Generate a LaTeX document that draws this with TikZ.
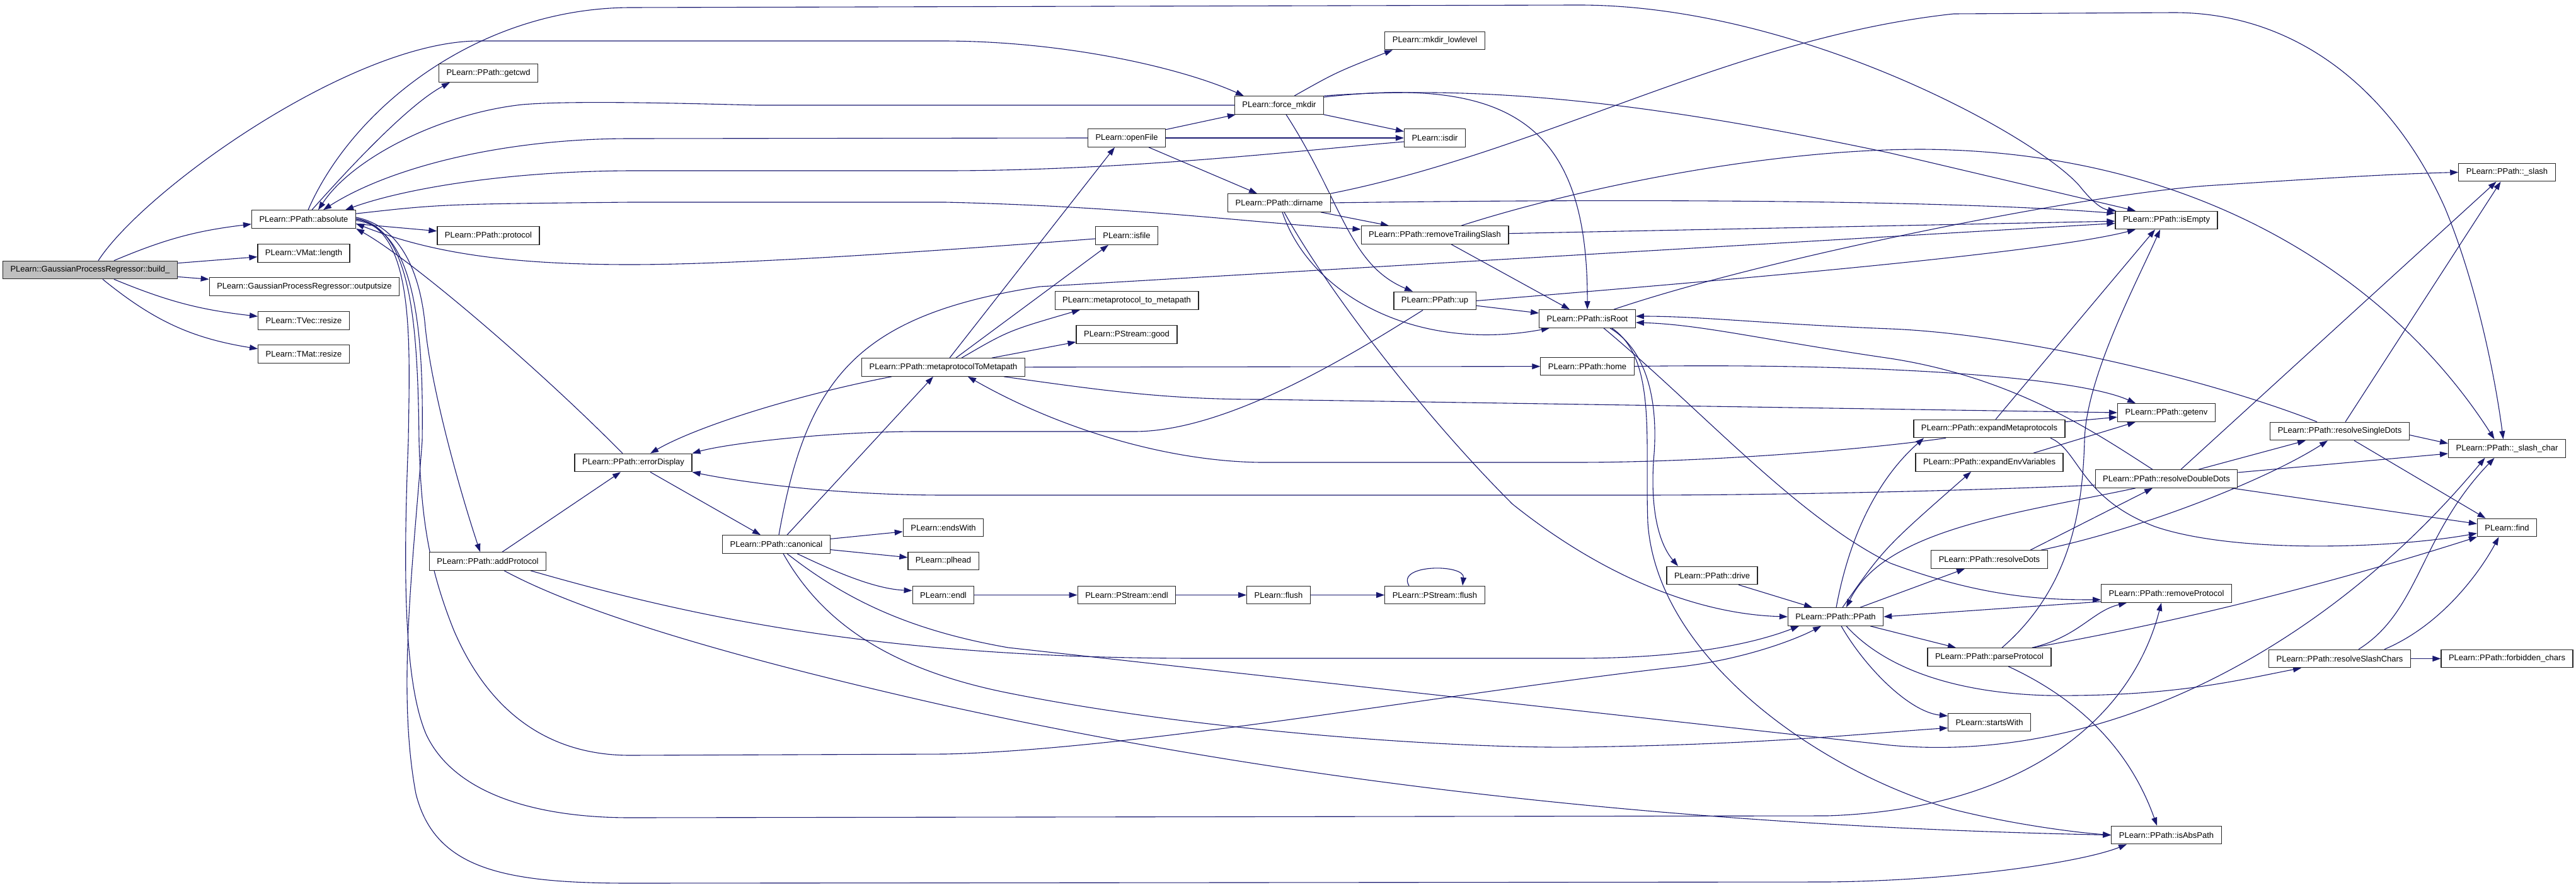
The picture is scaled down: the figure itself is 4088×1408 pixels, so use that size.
\documentclass[tikz,border=0pt]{standalone}
\usepackage{fontspec}
\setmainfont{Liberation Sans}
\usetikzlibrary{arrows.meta}
\usetikzlibrary{backgrounds}
\definecolor{edgeblue}{HTML}{191970}
\def\boxh{28.5pt}
\tikzset{
>={Triangle[length=13pt,width=9pt]}, % all arrows with filled tips
fn/.style={draw=black!85,line width=1.2pt,fill=white,rectangle,
  minimum height=\boxh,inner xsep=12pt,inner ysep=0pt,
  font=\fontsize{13}{15}\selectfont},
root fn/.style={fn,fill=black!25},
call/.style={->,draw,color=edgeblue,line width=1.1pt}
}
\begin{document}
\begin{tikzpicture}[x=1pt,y=-1pt]
\useasboundingbox (0,0) rectangle (4088,1408);
% functions, rank by rank
\node[root fn] (build) at (143,428.5) {PLearn::GaussianProcessRegressor::build\_};
\node[fn] (absolute) at (482,348) {PLearn::PPath::absolute};
\node[fn] (vlength)  at (482,402) {PLearn::VMat::length};
\node[fn] (outsize)  at (483,455) {PLearn::GaussianProcessRegressor::outputsize};
\node[fn] (tvresize) at (482,509) {PLearn::TVec::resize};
\node[fn] (tmresize) at (482,562) {PLearn::TMat::resize};
\node[fn] (getcwd)   at (775,116) {PLearn::PPath::getcwd};
\node[fn] (protocol) at (775,374) {PLearn::PPath::protocol};
\node[fn] (addproto) at (774,891) {PLearn::PPath::addProtocol};
\node[fn] (errdisp)  at (1005,734.5) {PLearn::PPath::errorDisplay};
\node[fn] (canon)    at (1232,864) {PLearn::PPath::canonical};
\node[fn] (mtm)      at (1497,583) {PLearn::PPath::metaprotocolToMetapath};
\node[fn] (endswith) at (1497,837.5) {PLearn::endsWith};
\node[fn] (plhead)   at (1497,890.5) {PLearn::plhead};
\node[fn] (endl)     at (1497,944.5) {PLearn::endl};
\node[fn] (openfile) at (1788,219) {PLearn::openFile};
\node[fn] (isfile)   at (1788,374) {PLearn::isfile};
\node[fn] (mtomp)    at (1788,477) {PLearn::metaprotocol\_to\_metapath};
\node[fn] (good)     at (1788,531) {PLearn::PStream::good};
\node[fn] (psendl)   at (1788,944.5) {PLearn::PStream::endl};
\node[fn] (forcemk)  at (2030,167) {PLearn::force\_mkdir};
\node[fn] (dirname)  at (2030,322) {PLearn::PPath::dirname};
\node[fn] (flush)    at (2029,944.5) {PLearn::flush};
\node[fn] (mklow)    at (2277,64.5) {PLearn::mkdir\_lowlevel};
\node[fn] (isdir)    at (2277,219) {PLearn::isdir};
\node[fn] (rmtrail)  at (2277,373) {PLearn::PPath::removeTrailingSlash};
\node[fn] (up)       at (2277,477.5) {PLearn::PPath::up};
\node[fn] (psflush)  at (2277,944.5) {PLearn::PStream::flush};
\node[fn] (isroot)   at (2519,506) {PLearn::PPath::isRoot};
\node[fn] (home)     at (2519,581.5) {PLearn::PPath::home};
\node[fn] (drive)    at (2717,913.5) {PLearn::PPath::drive};
\node[fn] (ppath)    at (2913,979) {PLearn::PPath::PPath};
\node[fn] (expmeta)  at (3157,680.5) {PLearn::PPath::expandMetaprotocols};
\node[fn] (expenv)   at (3157,734) {PLearn::PPath::expandEnvVariables};
\node[fn] (resdots)  at (3157,888) {PLearn::PPath::resolveDots};
\node[fn] (parsepr)  at (3157,1043) {PLearn::PPath::parseProtocol};
\node[fn] (startsw)  at (3157,1146.5) {PLearn::startsWith};
\node[fn] (isempty)  at (3438,349.5) {PLearn::PPath::isEmpty};
\node[fn] (getenv)   at (3438,655) {PLearn::PPath::getenv};
\node[fn] (resdd)    at (3438,760) {PLearn::PPath::resolveDoubleDots};
\node[fn] (rmproto)  at (3438,942) {PLearn::PPath::removeProtocol};
\node[fn] (isabs)    at (3438,1325.5) {PLearn::PPath::isAbsPath};
\node[fn] (ressd)    at (3713,684.5) {PLearn::PPath::resolveSingleDots};
\node[fn] (ressc)    at (3713,1045.5) {PLearn::PPath::resolveSlashChars};
\node[fn] (slash)    at (3978.5,273.5) {PLearn::PPath::\_slash};
\node[fn] (slashch)  at (3978.5,712) {PLearn::PPath::\_slash\_char};
\node[fn] (find)     at (3978.5,837.5) {PLearn::find};
\node[fn] (forbid)   at (3978.5,1045.5) {PLearn::PPath::forbidden\_chars};

\begin{scope}[on background layer]
% build_
\path[call] (build) edge[bend left=8] (absolute)
            (build) edge (vlength)
            (build) edge (outsize)
            (build) edge[bend right=8] (tvresize)
            (build) edge[bend right=15] (tmresize);
\draw[call] ([xshift=13pt]build.north) .. controls (230,300) and (560,65) .. (760,65)
  -- (1500,65) .. controls (1700,66) and (1880,110) .. ([xshift=15pt]forcemk.north west);
% absolute
\draw[call] ([xshift=7pt]absolute.north) .. controls (560,170) and (760,13) .. (1000,12)
  -- (2500,8) .. controls (2850,6) and (3230,215) .. (3300,295)
  .. controls (3320,320) and (3335,332) .. ([xshift=2pt]isempty.north west);
\draw[call] ([xshift=13pt]absolute.north) .. controls (560,260) and (650,165) .. ([xshift=18pt]getcwd.south west);
\path[call] (absolute) edge (protocol);
\draw[call] ([yshift=-6pt]absolute.north east) .. controls (700,324) .. (1000,321) -- (1500,321)
  .. controls (1800,328) and (2000,355) .. ([yshift=9pt]rmtrail.west);
\draw[call] ([yshift=3pt]absolute.east) .. controls (640,360) and (668,440) .. (675,520)
  .. controls (685,620) and (730,780) .. ([xshift=-12pt]addproto.north);
\draw[call] ([yshift=1pt]absolute.east) .. controls (650,360) and (663,500) .. (665,700)
  .. controls (668,820) and (680,900) .. (720,1000) .. controls (780,1140) and (880,1199) .. (1000,1199)
  -- (1500,1197) .. controls (1800,1190) and (2300,1100) .. (2650,1060)
  .. controls (2760,1050) and (2850,1015) .. ([xshift=-23pt]ppath.south);
\draw[call] (absolute.east) .. controls (660,362) and (650,550) .. (648,700)
  .. controls (640,900) and (640,1080) .. (676,1165) .. controls (720,1260) and (850,1298) .. (1000,1298)
  -- (2900,1295) .. controls (3200,1285) and (3380,1150) .. ([xshift=-8pt]rmproto.south);
\draw[call] ([yshift=-2pt]absolute.east) .. controls (665,362) and (672,550) .. (670,700)
  .. controls (655,900) and (630,1100) .. (660,1260) .. controls (690,1380) and (800,1402) .. (1000,1402)
  -- (2900,1400) .. controls (3100,1398) and (3300,1370) .. ([xshift=-63pt]isabs.south);
% callers of absolute
\draw[call] (forcemk.west) -- (1200,167) .. controls (1050,163) and (900,160) .. (829,166)
  .. controls (700,180) and (560,250) .. ([xshift=23pt]absolute.north);
\draw[call] (openfile.west) -- (1000,220) .. controls (800,220) and (620,265) .. ([xshift=31pt]absolute.north);
\draw[call] ([yshift=-6pt]isdir.west) .. controls (2100,235) and (1800,271) .. (1500,271) -- (1000,271)
  .. controls (800,272) and (640,300) .. ([xshift=-17pt]absolute.north east);
\draw[call] ([yshift=-5pt]isfile.west) .. controls (1400,405) and (1150,420) .. (1000,420)
  .. controls (800,420) and (680,400) .. ([yshift=-7pt]absolute.east);
\draw[call] ([xshift=-17pt]errdisp.north) .. controls (850,580) and (650,410) .. (absolute.south east);
% addProtocol
\draw[call] ([xshift=23pt]addproto.north) -- ([xshift=-20pt]errdisp.south);
\draw[call] ([xshift=68pt]addproto.south) .. controls (1100,980) and (1400,1045) .. (1900,1045) -- (2500,1045)
  .. controls (2700,1045) and (2800,1015) .. ([xshift=-58pt]ppath.south);
\draw[call] ([xshift=26pt]addproto.south) .. controls (900,960) and (1100,1030) .. (1500,1120)
  .. controls (2000,1230) and (2600,1310) .. (isabs.west);
% errorDisplay and canonical
\draw[call] ([xshift=27pt]errdisp.south) -- ([xshift=-25pt]canon.north);
\draw[call] ([xshift=17pt]canon.north) -- ([xshift=-16pt]mtm.south);
\draw[call] ([xshift=4pt]canon.north) .. controls (1280,600) and (1360,500) .. (1650,455) -- ([yshift=-5pt]isempty.west);
\path[call] (canon) edge (endswith)
            (canon) edge (plhead);
\draw[call] ([xshift=33pt]canon.south) .. controls (1330,910) and (1390,935) .. ([yshift=7pt]endl.west);
\draw[call] ([xshift=11pt]canon.south) .. controls (1300,980) and (1400,1060) .. (1600,1100)
  .. controls (1900,1160) and (2300,1188) .. (2500,1186) .. controls (2800,1182) and (2950,1165) .. ([yshift=-9pt]startsw.west);
\draw[call] ([xshift=17pt]canon.south) .. controls (1340,950) and (1440,1000) .. (1600,1028) -- (3000,1183)
  .. controls (3350,1215) and (3700,1020) .. ([xshift=-35pt]slashch.south);
% metaprotocolToMetapath
\draw[call] ([xshift=-82pt]mtm.south) .. controls (1250,630) and (1100,680) .. ([xshift=27pt]errdisp.north);
\draw[call] ([xshift=10pt]mtm.north) -- ([xshift=-19pt]openfile.south);
\draw[call] ([xshift=20pt]mtm.north) -- ([xshift=-29pt]isfile.south);
\draw[call] ([xshift=29pt]mtm.north) .. controls (1600,525) .. ([xshift=-74pt]mtomp.south);
\draw[call] ([xshift=77pt]mtm.north) -- ([yshift=3pt]good.south west);
\path[call] (mtm) edge (home);
\draw[call] ([xshift=96pt]mtm.south) .. controls (1750,620) and (1850,634) .. (2000,634) -- (getenv.west);
\draw[call] ([xshift=-19pt]up.south) .. controls (2150,560) and (1950,685) .. (1800,685) -- (1450,685)
  .. controls (1300,686) and (1150,705) .. (errdisp.north east);
\draw[call] ([xshift=-69pt]expmeta.south) .. controls (2950,715) and (2700,734) .. (2500,734) -- (2000,734)
  .. controls (1850,732) and (1680,680) .. ([xshift=39pt]mtm.south);
% openFile and force_mkdir
\path[call] (openfile) edge (forcemk)
            (openfile) edge (isdir);
\draw[call] ([xshift=35pt]openfile.south) -- ([xshift=-35pt]dirname.north);
\draw[call] ([xshift=24pt]forcemk.north) .. controls (2120,115) .. ([xshift=-67pt]mklow.south);
\path[call] (forcemk) edge (isdir);
\draw[call] ([xshift=11pt]forcemk.south) .. controls (2130,320) and (2140,420) .. ([xshift=-35pt]up.north);
\draw[call] ([yshift=-2pt]forcemk.north east) .. controls (2400,120) and (2520,200) .. (isroot.north);
\draw[call] (forcemk.north east) .. controls (2400,130) and (2700,180) .. (3000,243) -- ([xshift=-49pt]isempty.north);
% dirname
\draw[call] (dirname.north east) .. controls (2450,240) and (2750,60) .. (3100,22) -- (3450,20)
  .. controls (3650,20) and (3800,150) .. (3880,330) .. controls (3930,450) and (3960,600) .. ([xshift=-6pt]slashch.north);
\draw[call] (dirname.east) .. controls (2600,315) and (3100,318) .. ([yshift=-4pt]isempty.north west);
\draw[call] ([xshift=66pt]dirname.south) -- ([xshift=-73pt]rmtrail.north);
\draw[call] ([xshift=5pt]dirname.south) .. controls (2080,470) and (2250,560) .. ([xshift=-60pt]isroot.south);
\draw[call] ([xshift=8pt]dirname.south) .. controls (2100,450) and (2250,650) .. (2400,800)
  .. controls (2550,920) and (2700,975) .. (ppath.west);
% removeTrailingSlash and up
\path[call] (rmtrail) edge (isempty);
\draw[call] ([xshift=42pt]rmtrail.north) .. controls (2500,300) and (2800,237) .. (3050,237)
  .. controls (3500,240) and (3800,450) .. ([xshift=-20pt]slashch.north);
\draw[call] ([xshift=26pt]rmtrail.south) -- ([xshift=-28pt]isroot.north);
\path[call] (up) edge (isroot);
\draw[call] (up.east) .. controls (2800,440) and (3250,400) .. ([xshift=-49pt]isempty.south);
% isRoot and home
\draw[call] ([xshift=36pt]isroot.south) .. controls (2620,560) and (2630,650) .. (2625,720)
  .. controls (2618,800) and (2630,860) .. ([xshift=-54pt]drive.north);
\draw[call] ([xshift=39pt]isroot.south) .. controls (2630,570) and (2610,700) .. (2615,830)
  .. controls (2630,1050) and (2900,1230) .. (3100,1285) .. controls (3200,1310) and (3300,1322) .. (isabs.west);
\draw[call] ([xshift=26pt]isroot.south) .. controls (2700,650) and (2850,820) .. (3000,894)
  .. controls (3150,950) and (3250,952) .. ([yshift=-10pt]rmproto.west);
\draw[call] ([xshift=42pt]isroot.north) .. controls (2800,410) and (3300,310) .. (3500,295)
  .. controls (3700,282) and (3800,276) .. (slash.west);
\draw[call] (home.east) .. controls (3000,576) and (3300,600) .. ([xshift=-49pt]getenv.north);
% drive and PPath
\draw[call] ([xshift=42pt]drive.south) -- ([xshift=-37pt]ppath.north);
\draw[call] ([xshift=1pt]ppath.north) .. controls (2935,850) and (2980,760) .. ([xshift=-104pt]expmeta.south);
\draw[call] ([xshift=11pt]ppath.north) .. controls (2990,870) .. ([xshift=-29pt]expenv.south);
\draw[call] ([xshift=39pt]ppath.north) -- ([xshift=-39pt]resdots.south);
\draw[call] ([xshift=55pt]ppath.south) -- ([xshift=-53pt]parsepr.north);
\draw[call] ([xshift=9pt]ppath.south) .. controls (2960,1060) and (3030,1130) .. ([yshift=10pt]startsw.west);
\draw[call] ([xshift=17pt]ppath.south) .. controls (2990,1060) and (3100,1100) .. (3250,1104)
  .. controls (3450,1106) and (3550,1080) .. ([xshift=-61pt]ressc.south);
\draw[call] ([yshift=-13pt]rmproto.west) -- (ppath.east);
\draw[call] ([xshift=-49pt]resdd.south) .. controls (3200,815) and (2990,840) .. ([xshift=17pt]ppath.north);
% expand*, resolveDots
\draw[call] ([xshift=10pt]expmeta.north) -- ([xshift=-18pt]isempty.south);
\path[call] (expmeta) edge (getenv);
\draw[call] ([xshift=97pt]expmeta.south) .. controls (3300,715) and (3300,790) .. (3420,836)
  .. controls (3550,880) and (3800,870) .. ([yshift=-9pt]find.west);
\draw[call] ([xshift=70pt]expenv.north) -- ([xshift=-49pt]getenv.south);
\draw[call] ([xshift=65pt]resdots.north) -- ([xshift=-22pt]resdd.south);
\draw[call] ([xshift=82pt]resdots.north) .. controls (3400,840) and (3600,760) .. ([xshift=-19pt]ressd.south);
% resolveDoubleDots, resolveSingleDots
\draw[call] ([xshift=-22pt]resdd.north) .. controls (3330,690) and (3200,600) .. (3000,569)
  .. controls (2800,540) and (2700,515) .. ([yshift=-6pt]isroot.east);
\draw[call] ([xshift=-36pt]ressd.north) .. controls (3500,600) and (3200,530) .. (3000,522)
  .. controls (2800,514) and (2700,502) .. ([yshift=4pt]isroot.east);
\draw[call] ([xshift=23pt]resdd.north) -- ([xshift=-17pt]slash.south);
\draw[call] ([xshift=9pt]ressd.north) -- ([xshift=-10pt]slash.south);
\draw[call] ([xshift=51pt]resdd.north) -- ([xshift=-54pt]ressd.south);
\draw[call] ([xshift=23pt]ressd.south) -- ([xshift=-34pt]find.north);
\draw[call] ([yshift=-6pt]ressd.east) -- ([yshift=8pt]slashch.west);
\draw[call] ([yshift=10pt]resdd.east) -- ([yshift=-8pt]slashch.west);
\draw[call] ([xshift=-10pt]resdd.south east) -- ([yshift=6pt]find.west);
\draw[call] ([yshift=-10pt]resdd.west) .. controls (3100,780) and (2800,786) .. (2600,786) -- (1500,786)
  .. controls (1300,786) and (1150,760) .. (errdisp.south east);
% parseProtocol
\draw[call] ([xshift=68pt]parsepr.north) .. controls (3300,1010) and (3320,970) .. ([xshift=-63pt]rmproto.south);
\draw[call] ([xshift=68pt]parsepr.north) .. controls (3500,980) and (3750,910) .. (find.south west);
\draw[call] ([xshift=20pt]parsepr.north) .. controls (3290,930) and (3305,800) .. (3308,700)
  .. controls (3310,600) and (3390,450) .. ([xshift=-10pt]isempty.south);
\draw[call] ([xshift=30pt]parsepr.south) .. controls (3300,1110) and (3380,1190) .. ([xshift=-15pt]isabs.north);
% resolveSlashChars
\draw[call] ([xshift=30pt]ressc.north) .. controls (3840,970) and (3840,850) .. ([xshift=-20pt]slashch.south);
\draw[call] ([xshift=71pt]ressc.north) .. controls (3880,990) and (3940,900) .. ([xshift=-13pt]find.south);
\path[call] (ressc) edge (forbid);
% endl chain
\path[call] (endl) edge (psendl)
            (psendl) edge (flush)
            (flush) edge (psflush);
\draw[call] ([xshift=-41pt]psflush.north) .. controls (2215,895) and (2325,895) .. ([xshift=44pt]psflush.north);
\end{scope}
\end{tikzpicture}
\end{document}
